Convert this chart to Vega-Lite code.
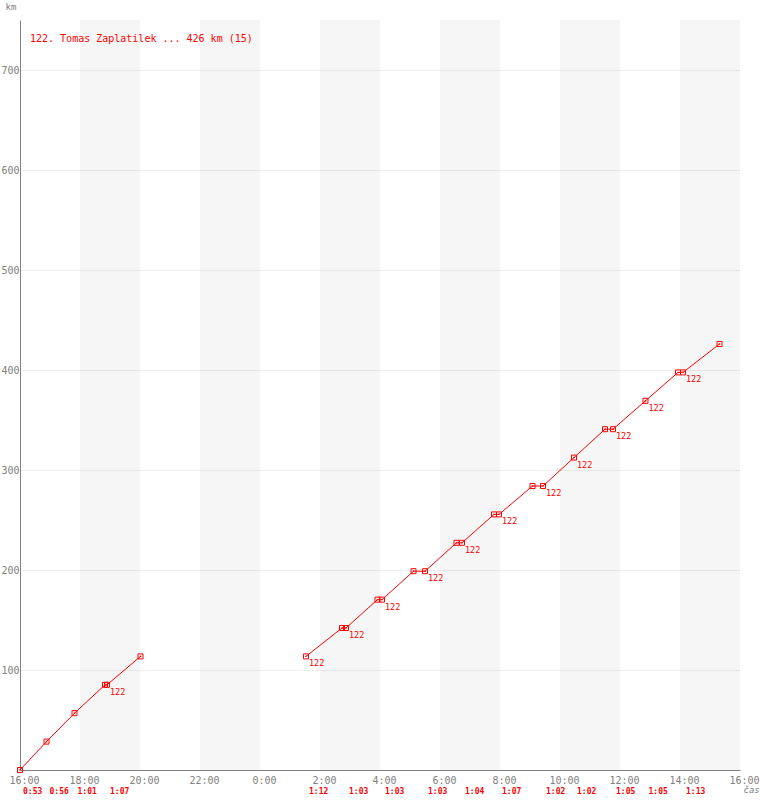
{
  "$schema": "https://vega.github.io/schema/vega-lite/v6.json",
  "width": 720,
  "height": 750,
  "autosize": {"type": "none"},
  "padding": {"left": 20, "top": 20, "right": 20, "bottom": 30},
  "background": "white",
  "config": {"view": {"stroke": null}, "font": "DejaVu Sans Mono"},
  "title": {
    "text": "122. Tomas Zaplatilek ... 426 km (15)",
    "anchor": "start",
    "frame": "group",
    "orient": "top",
    "offset": -22,
    "dx": 10,
    "dy": 28,
    "baseline": "alphabetic",
    "color": "#ff0000",
    "font": "DejaVu Sans Mono",
    "fontSize": 10,
    "fontWeight": "normal"
  },
  "datasets": {
    "bands": [
      {"start": "2000-01-01T18:00:00Z", "end": "2000-01-01T20:00:00Z"},
      {"start": "2000-01-01T22:00:00Z", "end": "2000-01-02T00:00:00Z"},
      {"start": "2000-01-02T02:00:00Z", "end": "2000-01-02T04:00:00Z"},
      {"start": "2000-01-02T06:00:00Z", "end": "2000-01-02T08:00:00Z"},
      {"start": "2000-01-02T10:00:00Z", "end": "2000-01-02T12:00:00Z"},
      {"start": "2000-01-02T14:00:00Z", "end": "2000-01-02T16:00:00Z"}
    ],
    "points": [
      {"t": "2000-01-01T16:00:00Z", "km": 0, "seg": "s1", "label": ""},
      {"t": "2000-01-01T16:53:00Z", "km": 28.4, "seg": "s1", "label": ""},
      {"t": "2000-01-01T17:49:00Z", "km": 56.8, "seg": "s1", "label": ""},
      {"t": "2000-01-01T18:50:00Z", "km": 85.2, "seg": "s1", "label": ""},
      {"t": "2000-01-01T18:54:00Z", "km": 85.2, "seg": "s1", "label": "122"},
      {"t": "2000-01-01T20:01:00Z", "km": 113.6, "seg": "s1", "label": ""},
      {"t": "2000-01-02T01:32:00Z", "km": 113.6, "seg": "s2", "label": "122"},
      {"t": "2000-01-02T02:44:00Z", "km": 142, "seg": "s2", "label": ""},
      {"t": "2000-01-02T02:52:00Z", "km": 142, "seg": "s2", "label": "122"},
      {"t": "2000-01-02T03:55:00Z", "km": 170.4, "seg": "s2", "label": ""},
      {"t": "2000-01-02T04:04:00Z", "km": 170.4, "seg": "s2", "label": "122"},
      {"t": "2000-01-02T05:07:00Z", "km": 198.8, "seg": "s2", "label": ""},
      {"t": "2000-01-02T05:30:00Z", "km": 198.8, "seg": "s2", "label": "122"},
      {"t": "2000-01-02T06:33:00Z", "km": 227.2, "seg": "s2", "label": ""},
      {"t": "2000-01-02T06:44:00Z", "km": 227.2, "seg": "s2", "label": "122"},
      {"t": "2000-01-02T07:48:00Z", "km": 255.6, "seg": "s2", "label": ""},
      {"t": "2000-01-02T07:58:00Z", "km": 255.6, "seg": "s2", "label": "122"},
      {"t": "2000-01-02T09:05:00Z", "km": 284, "seg": "s2", "label": ""},
      {"t": "2000-01-02T09:26:00Z", "km": 284, "seg": "s2", "label": "122"},
      {"t": "2000-01-02T10:28:00Z", "km": 312.4, "seg": "s2", "label": "122"},
      {"t": "2000-01-02T11:30:00Z", "km": 340.8, "seg": "s2", "label": ""},
      {"t": "2000-01-02T11:46:00Z", "km": 340.8, "seg": "s2", "label": "122"},
      {"t": "2000-01-02T12:51:00Z", "km": 369.2, "seg": "s2", "label": "122"},
      {"t": "2000-01-02T13:56:00Z", "km": 397.6, "seg": "s2", "label": ""},
      {"t": "2000-01-02T14:06:00Z", "km": 397.6, "seg": "s2", "label": "122"},
      {"t": "2000-01-02T15:19:00Z", "km": 426, "seg": "s2", "label": ""}
    ],
    "laps": [
      {"start": "2000-01-01T16:00:00Z", "lap": "0:53"},
      {"start": "2000-01-01T16:53:00Z", "lap": "0:56"},
      {"start": "2000-01-01T17:49:00Z", "lap": "1:01"},
      {"start": "2000-01-01T18:54:00Z", "lap": "1:07"},
      {"start": "2000-01-02T01:32:00Z", "lap": "1:12"},
      {"start": "2000-01-02T02:52:00Z", "lap": "1:03"},
      {"start": "2000-01-02T04:04:00Z", "lap": "1:03"},
      {"start": "2000-01-02T05:30:00Z", "lap": "1:03"},
      {"start": "2000-01-02T06:44:00Z", "lap": "1:04"},
      {"start": "2000-01-02T07:58:00Z", "lap": "1:07"},
      {"start": "2000-01-02T09:26:00Z", "lap": "1:02"},
      {"start": "2000-01-02T10:28:00Z", "lap": "1:02"},
      {"start": "2000-01-02T11:46:00Z", "lap": "1:05"},
      {"start": "2000-01-02T12:51:00Z", "lap": "1:05"},
      {"start": "2000-01-02T14:06:00Z", "lap": "1:13"}
    ]
  },
  "layer": [
    {
      "data": {"name": "bands"},
      "mark": {"type": "rect", "fill": "#000000", "opacity": 0.035},
      "encoding": {
        "x": {
          "field": "start",
          "type": "temporal",
          "scale": {
            "type": "utc",
            "domain": [
              {"year": 2000, "month": 1, "date": 1, "hours": 16, "utc": true},
              {"year": 2000, "month": 1, "date": 2, "hours": 16, "utc": true}
            ]
          },
          "axis": {
            "format": "%-H:%M",
            "values": [
              {"year": 2000, "month": 1, "date": 1, "hours": 16, "utc": true},
              {"year": 2000, "month": 1, "date": 1, "hours": 18, "utc": true},
              {"year": 2000, "month": 1, "date": 1, "hours": 20, "utc": true},
              {"year": 2000, "month": 1, "date": 1, "hours": 22, "utc": true},
              {"year": 2000, "month": 1, "date": 2, "hours": 0, "utc": true},
              {"year": 2000, "month": 1, "date": 2, "hours": 2, "utc": true},
              {"year": 2000, "month": 1, "date": 2, "hours": 4, "utc": true},
              {"year": 2000, "month": 1, "date": 2, "hours": 6, "utc": true},
              {"year": 2000, "month": 1, "date": 2, "hours": 8, "utc": true},
              {"year": 2000, "month": 1, "date": 2, "hours": 10, "utc": true},
              {"year": 2000, "month": 1, "date": 2, "hours": 12, "utc": true},
              {"year": 2000, "month": 1, "date": 2, "hours": 14, "utc": true},
              {"year": 2000, "month": 1, "date": 2, "hours": 16, "utc": true}
            ],
            "grid": false,
            "ticks": false,
            "domainColor": "#808080",
            "domainWidth": 1,
            "labelColor": "#808080",
            "labelFont": "DejaVu Sans Mono",
            "labelFontSize": 10,
            "labelPadding": 5,
            "labelOffset": 4,
            "labelFlush": false,
            "labelOverlap": false,
            "labelBound": false,
            "title": "čas",
            "titleFont": "DejaVu Sans Mono",
            "titleFontSize": 9,
            "titleFontWeight": "normal",
            "titleFontStyle": "italic",
            "titleColor": "#808080",
            "titleAlign": "left",
            "titleBaseline": "alphabetic",
            "titleX": 723,
            "titleY": 22
          }
        },
        "x2": {"field": "end"}
      }
    },
    {
      "data": {"name": "points"},
      "mark": {"type": "line", "color": "#ff0000", "strokeWidth": 1},
      "encoding": {
        "x": {"field": "t", "type": "temporal"},
        "y": {
          "field": "km",
          "type": "quantitative",
          "scale": {"domain": [0, 750], "nice": false},
          "axis": {
            "values": [100, 200, 300, 400, 500, 600, 700],
            "grid": true,
            "gridColor": "#eeeeee",
            "gridWidth": 1,
            "ticks": false,
            "domainColor": "#808080",
            "domainWidth": 1,
            "labelColor": "#808080",
            "labelFont": "DejaVu Sans Mono",
            "labelFontSize": 10,
            "labelPadding": 1,
            "labelBaseline": "middle",
            "labelOverlap": false,
            "title": "km",
            "titleFont": "DejaVu Sans Mono",
            "titleFontSize": 9,
            "titleFontWeight": "normal",
            "titleColor": "#808080",
            "titleAngle": 0,
            "titleAlign": "left",
            "titleBaseline": "alphabetic",
            "titleX": -15,
            "titleY": -11
          }
        },
        "detail": {"field": "seg"}
      }
    },
    {
      "data": {"name": "points"},
      "mark": {"type": "point", "shape": "square", "size": 25, "filled": false, "stroke": "#ff0000", "strokeWidth": 1, "opacity": 1},
      "encoding": {
        "x": {"field": "t", "type": "temporal"},
        "y": {"field": "km", "type": "quantitative"}
      }
    },
    {
      "data": {"name": "points"},
      "mark": {"type": "point", "shape": "square", "size": 2, "filled": true, "fill": "#ff0000", "opacity": 1},
      "encoding": {
        "x": {"field": "t", "type": "temporal"},
        "y": {"field": "km", "type": "quantitative"}
      }
    },
    {
      "data": {"name": "points"},
      "transform": [{"filter": "datum.label != ''"}],
      "mark": {"type": "text", "color": "#ff0000", "font": "DejaVu Sans Mono", "fontSize": 8.5, "align": "left", "baseline": "alphabetic", "dx": 3, "dy": 10},
      "encoding": {
        "x": {"field": "t", "type": "temporal"},
        "y": {"field": "km", "type": "quantitative"},
        "text": {"field": "label"}
      }
    },
    {
      "data": {"name": "laps"},
      "mark": {"type": "text", "color": "#ff0000", "font": "DejaVu Sans Mono", "fontSize": 8, "fontWeight": "bold", "align": "left", "baseline": "alphabetic", "dx": 3, "dy": 24},
      "encoding": {
        "x": {"field": "start", "type": "temporal"},
        "y": {"value": "height"},
        "text": {"field": "lap"}
      }
    }
  ]
}
